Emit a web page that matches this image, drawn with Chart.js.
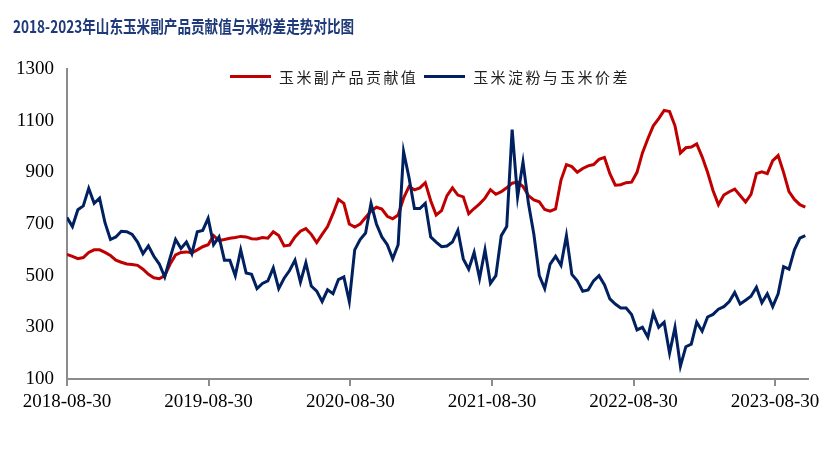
<!DOCTYPE html>
<html>
<head>
<meta charset="utf-8">
<script src="https://cdn.jsdelivr.net/npm/chart.js@4/dist/chart.umd.min.js"></script>
<style>
    body { margin: 0; background: #fff; }
    #wrap { position: relative; width: 831px; height: 472px; }
    #title {
        position: absolute; left: 13px; top: 13px;
        font: bold 17px "Noto Sans CJK SC", sans-serif;
        color: #1f3a7a; white-space: nowrap;
        transform: scaleX(0.8); transform-origin: left center;
    }
    #legend {
        position: absolute; left: 230px; top: 66px;
        display: flex; align-items: center;
        font: 15px "Noto Sans CJK SC", sans-serif; color: #222;
        letter-spacing: 2.4px; white-space: nowrap;
    }
    #legend .swatch { display: inline-block; width: 41px; height: 3px; margin-right: 8px; }
    #legend .item { display: flex; align-items: center; margin-right: 6px; }
</style>
</head>
<body>
<div id="wrap">
    <canvas id="dataChart" width="831" height="472"></canvas>
    <div id="title">2018-2023年山东玉米副产品贡献值与米粉差走势对比图</div>
    <div id="legend"></div>
</div>
<script>
// fechas cada 14 dias desde el inicio
const startDate = "2018-08-30";
const endDate = "2023-11-23";
const stepDays = 14;
const tickLabels = ["2018-08-30", "2019-08-30", "2020-08-30", "2021-08-30", "2022-08-30", "2023-08-30"];
const yTicks = [100, 300, 500, 700, 900, 1100, 1300];

const seriesNames = ["玉米副产品贡献值", "玉米淀粉与玉米价差"];
const seriesColors = ["#c00000", "#002060"];

const byproductValue = [
    582, 575, 566, 570, 590, 600, 600, 590, 578, 560,
    552, 545, 543, 540, 525, 505, 492, 488, 500, 545,
    580, 590, 592, 588, 600, 612, 620, 655, 636, 640,
    645, 648, 652, 650, 643, 642, 648, 645, 670, 655,
    615, 618, 650, 672, 682, 660, 628, 660, 690, 740,
    795, 780, 700, 688, 700, 725, 750, 765, 758, 730,
    720, 735, 800, 845, 832, 840, 860, 790, 735, 752,
    810, 840, 812, 805, 740, 760, 778, 800, 833, 815,
    825, 840, 858, 862, 845, 810, 793, 786, 756, 750,
    758, 870, 930, 922, 900, 915, 925, 930, 950, 958,
    895, 850, 852, 860, 862, 900, 975, 1030, 1080, 1108,
    1140, 1135, 1080, 975, 995, 998, 1010, 960, 900, 830,
    775, 812, 825, 835, 810, 785, 815, 895, 902, 895,
    945, 965, 900, 825, 795, 775, 765
];

const starchSpread = [
    725, 690, 755, 770, 838, 780, 800, 705, 640, 650,
    672, 670, 660, 630, 585, 615, 575, 545, 495, 570,
    640, 605, 630, 585, 670, 675, 722, 620, 650, 560,
    560, 500, 600, 510, 505, 450, 470, 480, 530, 450,
    490, 520, 560, 475, 550, 460, 440, 400, 445, 430,
    485, 495, 400, 600, 640, 665, 780, 700, 650, 620,
    565, 620, 980, 880, 760, 760, 780, 650, 630, 612,
    615, 630, 675, 565, 525, 590, 490, 600, 470, 500,
    655, 690, 1065, 805, 940, 780, 660, 500, 450, 545,
    575, 540, 655, 505, 480, 440, 445, 480, 500, 465,
    410, 390, 375, 375, 350, 290, 300, 262, 355, 300,
    320, 200, 300, 150, 225, 235, 320, 285, 340, 350,
    370, 380, 400, 435, 390, 405, 420, 455, 395, 430,
    380, 430, 535, 525, 600, 645, 655
];

function dayNum(s) {
    return Date.parse(s + "T00:00:00Z") / 86400000;
}

const dates = byproductValue.map((v, i) => {
    const d = new Date((dayNum(startDate) + i * stepDays) * 86400000);
    return d.toISOString().slice(0, 10);
});

function toPoints(values) {
    return values.map((v, i) => ({ x: dayNum(dates[i]), y: v }));
}

const axisGray = "#8c8c8c";
const tickFont = { family: "'Liberation Serif', 'Times New Roman', serif", size: 19 };

document.addEventListener("DOMContentLoaded", function () {
    const ctx = document.getElementById("dataChart").getContext("2d");

    const dataChart = new Chart(ctx, {
        type: "line",
        data: {
            datasets: [{
                label: seriesNames[0],
                data: toPoints(byproductValue),
                borderColor: seriesColors[0],
                backgroundColor: seriesColors[0],
                borderWidth: 3,
                pointRadius: 0,
                order: 2
            }, {
                label: seriesNames[1],
                data: toPoints(starchSpread),
                borderColor: seriesColors[1],
                backgroundColor: seriesColors[1],
                borderWidth: 3,
                pointRadius: 0,
                order: 1
            }]
        },
        options: {
            responsive: false,
            animation: false,
            layout: { padding: { top: 69, right: 23, bottom: 0, left: 0 } },
            plugins: {
                legend: { display: false },
                tooltip: { enabled: false }
            },
            scales: {
                x: {
                    type: "linear",
                    min: dayNum(startDate),
                    max: dayNum(endDate),
                    afterFit: function (scale) { scale.height = 93; },
                    afterBuildTicks: function (scale) {
                        scale.ticks = tickLabels.map(t => ({ value: dayNum(t) }));
                    },
                    grid: {
                        drawOnChartArea: false,
                        drawTicks: true,
                        tickLength: 7,
                        color: axisGray,
                        lineWidth: 2
                    },
                    border: { color: axisGray, width: 2 },
                    ticks: {
                        padding: 5,
                        maxRotation: 0,
                        autoSkip: false,
                        color: "#000",
                        font: tickFont,
                        callback: (value, index) => tickLabels[index]
                    }
                },
                y: {
                    min: yTicks[0],
                    max: yTicks[yTicks.length - 1],
                    afterFit: function (scale) { scale.width = 67; },
                    afterBuildTicks: function (scale) {
                        scale.ticks = yTicks.map(v => ({ value: v }));
                    },
                    grid: { display: false, drawTicks: false },
                    border: { color: axisGray, width: 2 },
                    ticks: {
                        padding: 13,
                        color: "#000",
                        font: tickFont,
                        callback: (value) => String(value)
                    }
                }
            }
        }
    });

    // leyenda en html
    const legend = document.getElementById("legend");
    dataChart.data.datasets.forEach(ds => {
        const item = document.createElement("span");
        item.className = "item";
        const sw = document.createElement("span");
        sw.className = "swatch";
        sw.style.background = ds.borderColor;
        const txt = document.createElement("span");
        txt.textContent = ds.label;
        item.appendChild(sw);
        item.appendChild(txt);
        legend.appendChild(item);
    });
});
</script>
</body>
</html>
